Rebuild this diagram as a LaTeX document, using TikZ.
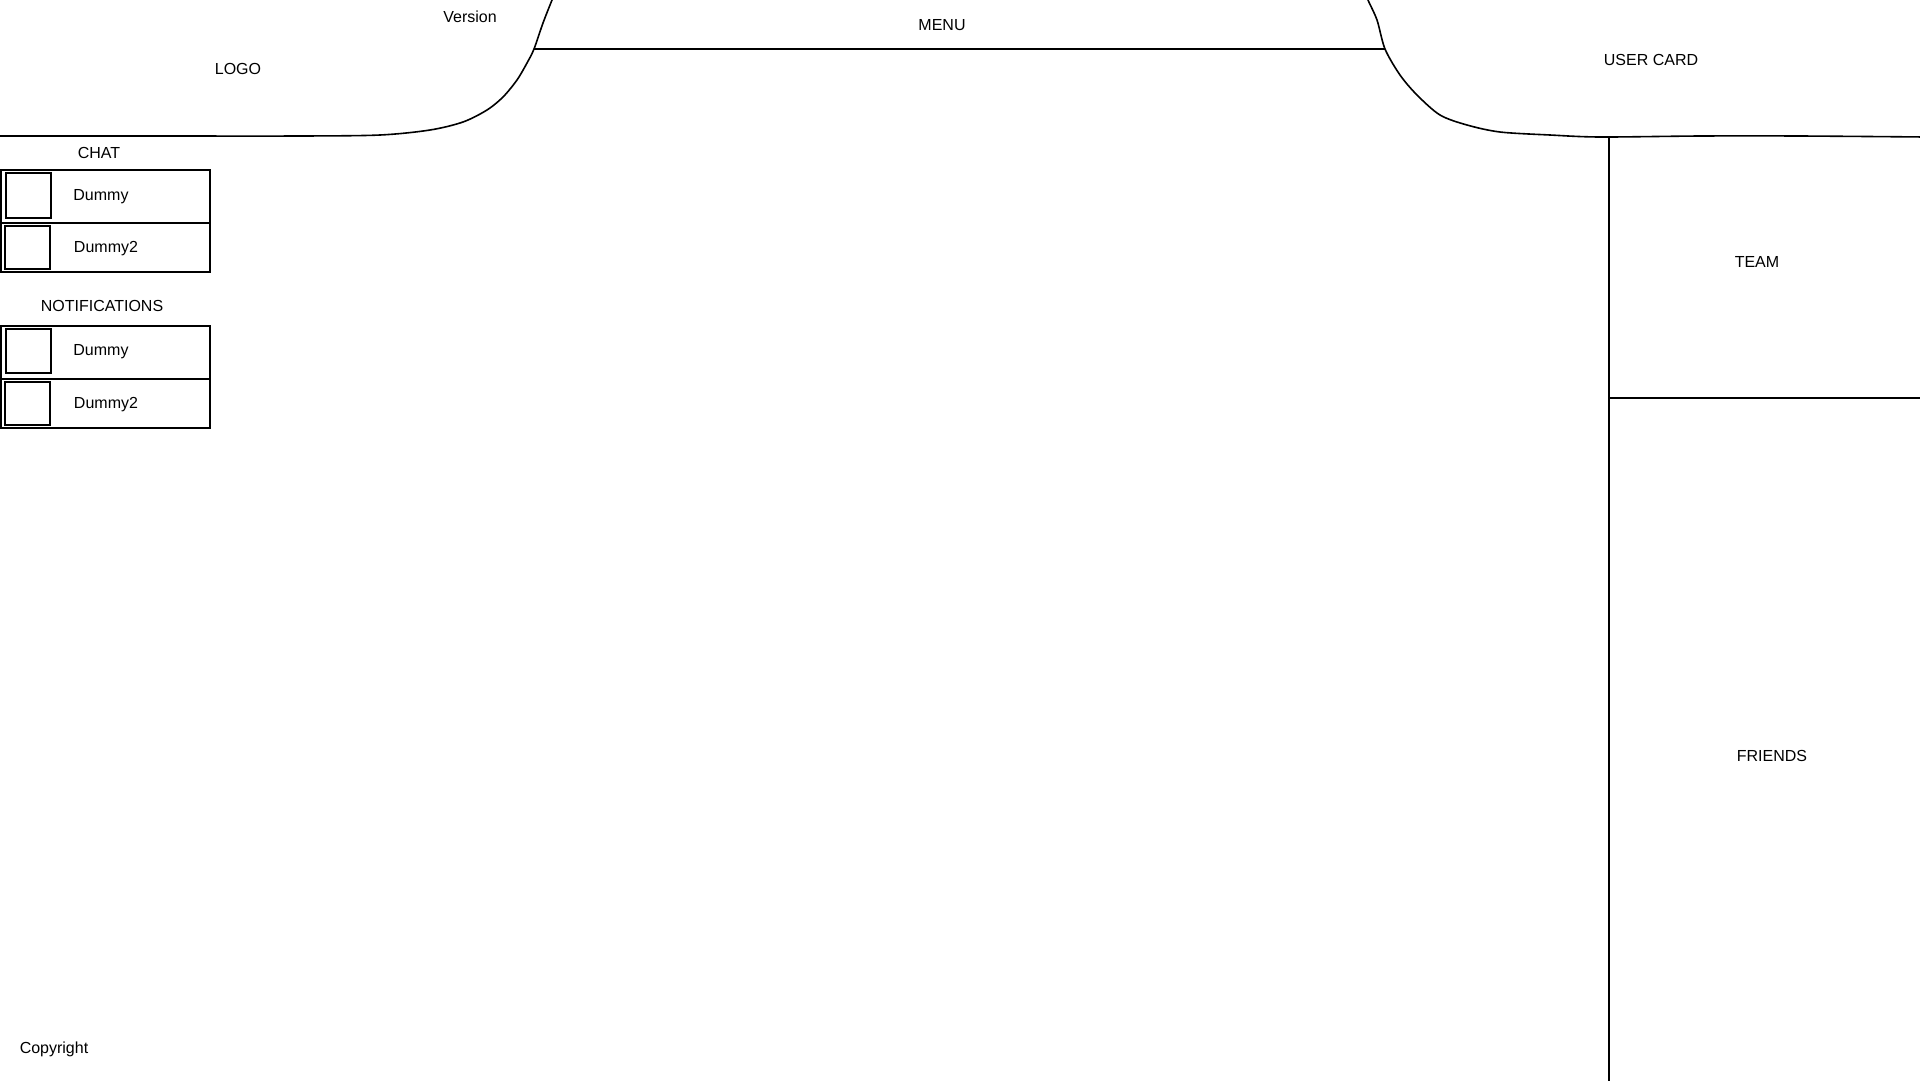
\documentclass[tikz,border=0pt]{standalone}
\usepackage{fontspec}
\setmainfont{Liberation Sans}
\begin{document}
\begin{tikzpicture}[x=1pt,y=-1pt,
  lbl/.style={font=\fontsize{16}{19}\selectfont, inner sep=0pt, anchor=center},
  frame/.style={draw=black, line width=1.6pt},
  thumb/.style={draw=black, line width=2.2pt}]
\useasboundingbox (0,0) rectangle (1920,1080);

% header curves
\coordinate (ml) at (534,49);
\coordinate (mr) at (1385,49);
\draw[frame] plot[smooth,tension=0.5] coordinates {(-5,136) (150,136) (300,136) (380,135) (430,130) (463,122) (487,110) (503,97) (517,80) (527,63) (534,49) (543,23) (552,0) (556,-10)};
\draw[frame] plot[smooth,tension=0.5] coordinates {(1365,-10) (1368,0) (1377,20) (1385,49) (1400,75) (1417,95) (1440,115) (1467,125) (1500,132) (1550,135) (1600,137) (1700,136) (1800,136) (1925,137)};
\draw[frame] (ml) -- (mr);

% right panels
\coordinate (vt) at (1609,136);
\coordinate (vb) at (1609,1085);
\coordinate (dl) at (1609,398);
\coordinate (dr) at (1925,398);
\draw[frame] (vt) -- (vb);
\draw[frame] (dl) -- (dr);

% chat list
\draw[frame] (1,170) rectangle (210,272);
\draw[frame] (1,223) -- (210,223);
\draw[thumb] (6,173) rectangle (51,218);
\draw[thumb] (5,226) rectangle (50,269);

% notifications list
\draw[frame] (1,326) rectangle (210,428);
\draw[frame] (1,379) -- (210,379);
\draw[thumb] (6,329) rectangle (51,373);
\draw[thumb] (5,382) rectangle (50,425);

% labels
\node[lbl] (version) at (470,17) {Version};
\node[lbl] (menu) at (942,25) {MENU};
\node[lbl] (logo) at (238,69) {LOGO};
\node[lbl] (usercard) at (1651,60) {USER CARD};
\node[lbl] (team) at (1757,262) {TEAM};
\node[lbl] (friends) at (1772,756) {FRIENDS};
\node[lbl] (chat) at (99,153) {CHAT};
\node[lbl] (notif) at (102,306) {NOTIFICATIONS};
\node[lbl] (c1) at (101,197) {Dummy};
\node[lbl] (c2) at (106,249) {Dummy2};
\node[lbl] (n1) at (101,352) {Dummy};
\node[lbl] (n2) at (106,405) {Dummy2};
\node[lbl] (copy) at (54,1049) {Copyright};
\end{tikzpicture}
\end{document}
